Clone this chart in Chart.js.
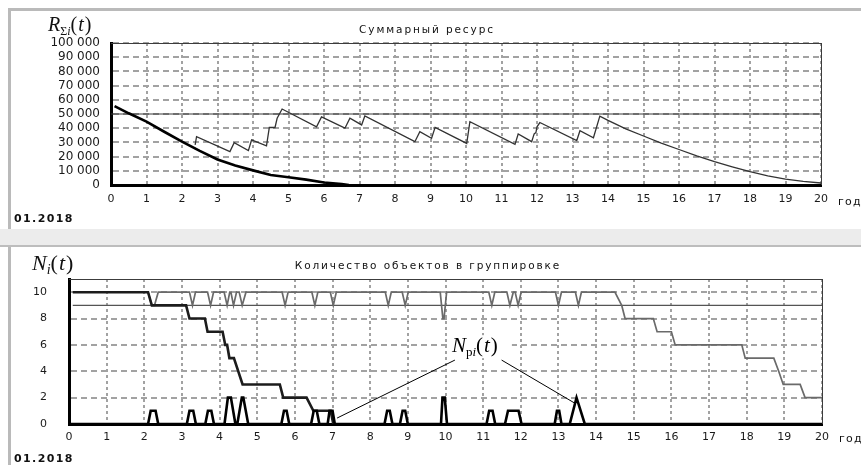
<!DOCTYPE html>
<html>
<head>
<meta charset="utf-8">
<script src="https://cdn.jsdelivr.net/npm/chart.js@4.4.0/dist/chart.umd.min.js"></script>
<style>
  body { margin: 0; width: 861px; height: 465px; background: #fff; position: relative; overflow: hidden; }
  .frame1 { position: absolute; left: 8px; top: 8px; width: 853px; height: 221px; box-sizing: border-box;
            border-top: 3px solid #bababa; border-left: 3px solid #bababa; }
  .band { position: absolute; left: 0; top: 229px; width: 861px; height: 16px; background: #ececec;
          border-bottom: 2px solid #bdbdbd; }
  .frame2 { position: absolute; left: 8px; top: 247px; width: 853px; height: 218px; box-sizing: border-box;
            border-left: 3px solid #bababa; }
  #c1 { position: absolute; left: 11px; top: 11px; }
  #c2 { position: absolute; left: 11px; top: 247px; }
</style>
</head>
<body>
<div class="frame1"></div>
<div class="band"></div>
<div class="frame2"></div>
<canvas id="c1" width="850" height="217"></canvas>
<canvas id="c2" width="850" height="218"></canvas>
<script>
// ---- data: top chart (суммарный ресурс) ----
const yearTicks = [0,1,2,3,4,5,6,7,8,9,10,11,12,13,14,15,16,17,18,19,20];
const resTicks = [0,10000,20000,30000,40000,50000,60000,70000,80000,90000,100000];

const limitT = [0, 20];
const limitR = [50000, 50000];

const mainT = [0.1, 0.5, 1, 1.5, 2, 2.5, 3, 3.5, 4, 4.5, 5, 5.5, 6, 6.5, 6.7];
const mainR = [55600, 50500, 44600, 37500, 30500, 24000, 18000, 13800, 10300, 7000, 5400, 3800, 1800, 600, 0];

const sawT = [2.37, 2.41, 3.35, 3.47, 3.87, 3.96, 4.38, 4.46, 4.62, 4.68, 4.82, 5.79, 5.93, 6.59, 6.73,
              7.06, 7.15, 8.56, 8.70, 9.03, 9.13, 10.02, 10.11, 11.38, 11.47, 11.85, 11.92, 11.97, 12.0, 12.08,
              13.12, 13.21, 13.59, 13.77, 14.0, 14.5, 15, 15.5, 16, 16.5, 17, 17.5, 18, 18.5, 19, 19.5, 20];
const sawR = [28200, 34000, 23500, 29800, 24200, 31700, 27500, 40500, 40500, 47000, 53500, 41000, 48000, 40000, 47000,
              42300, 48600, 30500, 37500, 32900, 40600, 29300, 44600, 28600, 35900, 30500, 36000, 37000, 41000, 44000,
              31300, 38200, 33300, 48500, 45500, 39500, 34500, 29500, 25000, 20500, 16400, 12800, 9400, 6500, 4200, 2600, 1400];

// ---- data: bottom chart (количество объектов) ----
const countTicks = [0, 2, 4, 6, 8, 10];

const minT = [0.1, 20];
const minN = [9, 9];

const totalT = [0.1, 2.1, 2.2, 2.27, 2.37, 3.2, 3.28, 3.36, 3.68, 3.76, 3.84,
                4.12, 4.2, 4.27, 4.3, 4.37, 4.45, 4.52, 4.6, 4.7,
                5.66, 5.74, 5.82, 6.45, 6.53, 6.61, 6.94, 7.02, 7.1,
                8.4, 8.48, 8.56, 8.85, 8.93, 9.01, 9.86, 9.93, 9.96, 10.03,
                11.15, 11.23, 11.31, 11.63, 11.71, 11.8, 11.85, 11.93, 12.01,
                12.92, 13.0, 13.08, 13.45, 13.53, 13.61,
                14.5, 14.68, 14.77, 15.52, 15.62, 16.0, 16.1, 17.87, 17.96, 18.72, 18.85, 18.97, 19.42, 19.55, 20];
const totalN = [10, 10, 9, 9, 10, 10, 9, 10, 10, 9, 10,
                10, 9, 10, 10, 9, 10, 10, 9, 10,
                10, 9, 10, 10, 9, 10, 10, 9, 10,
                10, 9, 10, 10, 9, 10, 10, 8, 8, 10,
                10, 9, 10, 10, 9, 10, 10, 9, 10,
                10, 9, 10, 10, 9, 10,
                10, 9, 8, 8, 7, 7, 6, 6, 5, 5, 4, 3, 3, 2, 2];

const stepT = [0.1, 2.1, 2.2, 3.11, 3.2, 3.61, 3.68, 4.08, 4.15, 4.2, 4.26, 4.38, 4.61, 5.6, 5.69, 6.31, 6.49, 6.95, 7.02];
const stepN = [10, 10, 9, 9, 8, 8, 7, 7, 6, 6, 5, 5, 3, 3, 2, 2, 1, 1, 0];

const pulseT = [0, 2.1, 2.17, 2.3, 2.37, 3.13, 3.2, 3.3, 3.37, 3.62, 3.69, 3.78, 3.85,
                4.13, 4.22, 4.3, 4.42, 4.47, 4.59, 4.63, 4.76, 5.64, 5.71, 5.78, 5.85,
                6.43, 6.5, 6.58, 6.65, 6.87, 6.92, 7.0, 7.06, 8.38, 8.45, 8.52, 8.59,
                8.79, 8.86, 8.93, 9.0, 9.88, 9.92, 9.98, 10.04, 11.09, 11.16, 11.25, 11.32,
                11.58, 11.66, 11.94, 12.02, 12.9, 12.96, 13.02, 13.08, 13.3, 13.48, 13.7, 20];
const pulseN = [0, 0, 1, 1, 0, 0, 1, 1, 0, 0, 1, 1, 0,
                0, 2, 2, 0, 0, 2, 2, 0, 0, 1, 1, 0,
                0, 1, 1, 0, 0, 1, 1, 0, 0, 1, 1, 0,
                0, 1, 1, 0, 0, 2, 2, 0, 0, 1, 1, 0,
                0, 1, 1, 0, 0, 1, 1, 0, 0, 2, 0, 0];

// callout N_pi(t)
const leader1T = [10.25, 7.12];
const leader1N = [4.85, 0.45];
const leader2T = [11.49, 13.44];
const leader2N = [4.85, 1.57];
const calloutAt = [10.17, 5.45];

const pts = (xs, ys) => xs.map((x, i) => ({ x: x, y: ys[i] }));
const spaced = v => String(v).replace(/\B(?=(\d{3})+(?!\d))/g, ' ');

const SERIF = '"Liberation Serif", "DejaVu Serif", serif';
const SANS = '"DejaVu Sans", sans-serif';

function drawParts(ctx, x, y, parts) {
    parts.forEach(p => {
        ctx.font = p.font;
        ctx.fillText(p.text, x, y + (p.dy || 0));
        x += ctx.measureText(p.text).width + (p.gap || 0);
    });
}

function mathLabel(big, sub) {
    return [
        { text: big[0], font: 'italic ' + big[1] + 'px ' + SERIF, gap: 0 },
        ...sub.map(s => ({ text: s[0], font: (s[1] ? 'italic ' : '') + Math.round(big[1] * 0.62) + 'px ' + SERIF, dy: 4 })),
        { text: '(', font: big[1] + 'px ' + SERIF, gap: 1 },
        { text: 't', font: 'italic ' + big[1] + 'px ' + SERIF, gap: 1 },
        { text: ')', font: big[1] + 'px ' + SERIF }
    ];
}

function spacedText(ctx, text, x, y, font, spacing, align) {
    ctx.font = font;
    ctx.letterSpacing = spacing + 'px';
    ctx.textAlign = align;
    ctx.fillText(text, x, y);
    ctx.letterSpacing = '0px';
}

function decor(opts) {
    return {
        id: 'decor',
        afterDraw(chart) {
            const ctx = chart.ctx;
            const a = chart.chartArea;
            ctx.save();
            // frame
            ctx.fillStyle = '#3c3c3c';
            ctx.fillRect(a.left, a.top, a.right - a.left + 1, 1);
            ctx.fillRect(a.right, a.top, 1, a.bottom - a.top);
            ctx.fillStyle = '#111';
            ctx.textBaseline = 'alphabetic';
            // title
            spacedText(ctx, opts.title, opts.titleX, opts.titleY, '10.5px ' + SANS, 1.9, 'center');
            // date + unit
            spacedText(ctx, '01.2018', 3, opts.dateY, 'bold 11px ' + SANS, 1.4, 'left');
            spacedText(ctx, 'год', a.right + 17, opts.unitY, '11px ' + SANS, 1.2, 'left');
            // axis name
            ctx.textAlign = 'left';
            drawParts(ctx, opts.nameX, opts.nameY, opts.name);
            if (opts.callout) {
                const x = chart.scales.x.getPixelForValue(calloutAt[0]);
                const y = chart.scales.y.getPixelForValue(calloutAt[1]);
                ctx.fillStyle = '#fff';
                ctx.fillRect(x - 2, y - 17, 62, 23);
                ctx.fillStyle = '#000';
                drawParts(ctx, x, y, opts.callout);
            }
            ctx.restore();
        }
    };
}

const tickFont = { family: 'DejaVu Sans', size: 11 };
const gridColor = '#a2a2a2';

function axisX(pad) {
    return {
        type: 'linear', min: 0, max: 20,
        afterBuildTicks: s => { s.ticks = yearTicks.map(v => ({ value: v })); },
        afterFit: s => { s.height = 24; },
        grid: { color: gridColor, lineWidth: 2, drawTicks: false },
        border: { color: '#000', width: 3, dash: [3, 3] },
        ticks: { padding: pad, color: '#1a1a1a', font: tickFont, maxRotation: 0, autoSkip: false }
    };
}

// ---- top chart ----
new Chart(document.getElementById('c1'), {
    type: 'line',
    data: {
        datasets: [
            { data: pts(mainT, mainR), borderColor: '#000', borderWidth: 2.6 },
            { data: pts(sawT, sawR), borderColor: '#333', borderWidth: 1.3 },
            { data: pts(limitT, limitR), borderColor: '#3a3a3a', borderWidth: 1 }
        ]
    },
    options: {
        animation: false,
        responsive: false,
        layout: { padding: { left: 0, right: 40, top: 32, bottom: 19 } },
        elements: { point: { radius: 0 }, line: { tension: 0 } },
        plugins: { legend: { display: false }, tooltip: { enabled: false } },
        scales: {
            x: axisX(8),
            y: {
                type: 'linear', min: 0, max: 100000,
                afterBuildTicks: s => { s.ticks = resTicks.map(v => ({ value: v })); },
                afterFit: s => { s.width = 100; },
                grid: { color: gridColor, lineWidth: 2, drawTicks: false },
                border: { color: '#000', width: 3, dash: [6, 4] },
                ticks: { padding: 11, color: '#1a1a1a', font: { family: 'DejaVu Sans', size: 12 }, autoSkip: false,
                         callback: v => spaced(v) }
            }
        }
    },
    plugins: [decor({
        title: 'Суммарный ресурс', titleX: 416, titleY: 22,
        dateY: 211, unitY: 194,
        nameX: 37, nameY: 20,
        name: mathLabel(['R', 20], [['Σ', false], ['i', true]])
    })]
});

// ---- bottom chart ----
new Chart(document.getElementById('c2'), {
    type: 'line',
    data: {
        datasets: [
            { data: pts(pulseT, pulseN), borderColor: '#000', borderWidth: 2.6 },
            { data: pts(stepT, stepN), borderColor: '#1c1c1c', borderWidth: 2.6 },
            { data: pts(leader1T, leader1N), borderColor: '#000', borderWidth: 1 },
            { data: pts(leader2T, leader2N), borderColor: '#000', borderWidth: 1 },
            { data: pts(totalT, totalN), borderColor: '#6a6a6a', borderWidth: 1.7 },
            { data: pts(minT, minN), borderColor: '#555', borderWidth: 1.1 }
        ]
    },
    options: {
        animation: false,
        responsive: false,
        layout: { padding: { left: 0, right: 39, top: 32, bottom: 17 } },
        elements: { point: { radius: 0 }, line: { tension: 0 } },
        plugins: { legend: { display: false }, tooltip: { enabled: false } },
        scales: {
            x: axisX(7),
            y: {
                type: 'linear', min: 0, max: 11,
                afterBuildTicks: s => { s.ticks = countTicks.map(v => ({ value: v })); },
                afterFit: s => { s.width = 58; },
                grid: { color: gridColor, lineWidth: 2, drawTicks: false },
                border: { color: '#000', width: 3, dash: [6, 4] },
                ticks: { padding: 22, color: '#1a1a1a', font: tickFont, autoSkip: false }
            }
        }
    },
    plugins: [decor({
        title: 'Количество объектов в группировке', titleX: 417, titleY: 22,
        dateY: 215, unitY: 195,
        nameX: 21, nameY: 23,
        name: mathLabel(['N', 22], [['i', true]]),
        callout: [
            { text: 'N', font: 'italic 21px ' + SERIF },
            { text: 'p', font: '13px ' + SERIF, dy: 4 },
            { text: 'i', font: 'italic 13px ' + SERIF, dy: 4 },
            { text: '(', font: '21px ' + SERIF, gap: 1 },
            { text: 't', font: 'italic 21px ' + SERIF, gap: 1 },
            { text: ')', font: '21px ' + SERIF }
        ]
    })]
});
</script>
</body>
</html>
